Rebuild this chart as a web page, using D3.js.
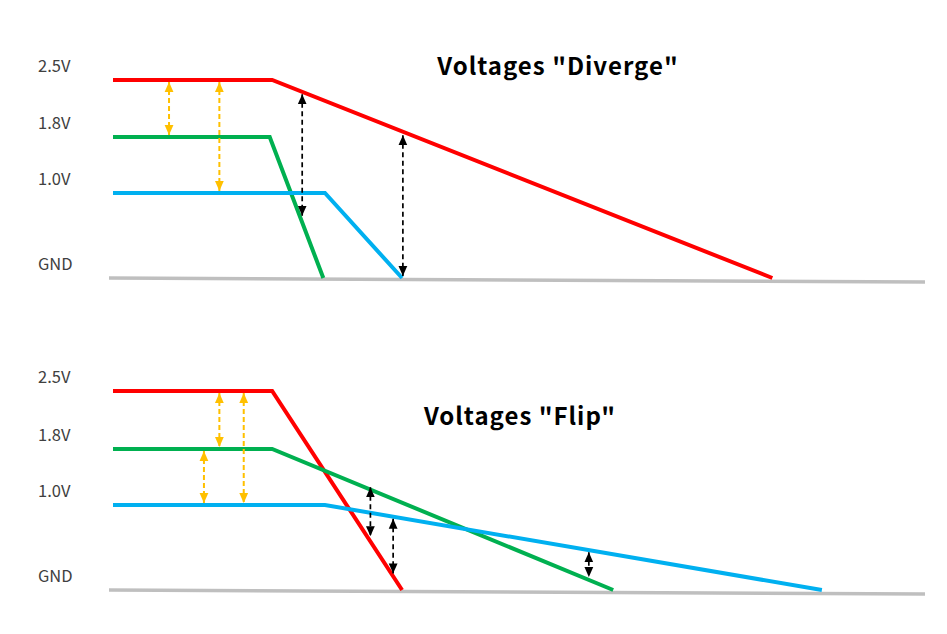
<!DOCTYPE html>
<html>
<head>
<meta charset="utf-8">
<script src="https://cdn.jsdelivr.net/npm/d3@7"></script>
<style>
  html, body { margin: 0; padding: 0; background: #fff; }
  svg { display: block; }
</style>
</head>
<body>
<svg id="chart" width="947" height="634"></svg>
<script>
// ---------- DATA ----------
const levelValues = [0, 1.0, 1.8, 2.5];
const levelLabels = ["GND", "1.0V", "1.8V", "2.5V"];
const titles = ['Voltages "Diverge"', 'Voltages "Flip"'];
const seriesNames = ["red", "green", "blue"];
const seriesColors = ["#FF0000", "#00B050", "#00B0F0"];

// each series: [time, volts] points (time in arbitrary units 0..100)
const divergeRed   = [[0, 2.5], [19.6, 2.5], [81.2, 0]];
const divergeGreen = [[0, 1.8], [19.3, 1.8], [25.9, 0]];
const divergeBlue  = [[0, 1.0], [26.1, 1.0], [35.6, 0]];
const flipRed      = [[0, 2.5], [19.6, 2.5], [35.6, 0]];
const flipGreen    = [[0, 1.8], [19.6, 1.8], [61.6, 0]];
const flipBlue     = [[0, 1.0], [26.1, 1.0], [87.3, 0]];

// arrows: [time, from series, to series, kind]
const divergeArrows = [
  [6.9, "red", "green", "orange"],
  [13.1, "red", "blue", "orange"],
  [23.3, "red", "green", "black"],
  [35.7, "red", "gnd", "black"]
];
const flipArrows = [
  [13.1, "red", "green", "orange"],
  [16.1, "red", "blue", "orange"],
  [11.2, "green", "blue", "orange"],
  [31.7, "green", "red", "black"],
  [34.5, "blue", "red", "black"],
  [58.6, "blue", "green", "black"]
];

// ---------- LAYOUT ----------
const panels = [
  { title: titles[0], titleX: 558, titleY: 75,
    series: [divergeRed, divergeGreen, divergeBlue], arrows: divergeArrows,
    yRange: [278, 193, 137, 80] },
  { title: titles[1], titleX: 520, titleY: 425,
    series: [flipRed, flipGreen, flipBlue], arrows: flipArrows,
    yRange: [590, 505, 449, 391] }
];

const svg = d3.select("#chart");
const x = d3.scaleLinear().domain([0, 100]).range([113, 925]);
const arrowColors = { orange: "#FFC000", black: "#000000" };

const defs = svg.append("defs");
Object.entries(arrowColors).forEach(([k, c]) => {
  defs.append("marker")
    .attr("id", "head-" + k)
    .attr("viewBox", "0 0 10 10")
    .attr("refX", 10).attr("refY", 5)
    .attr("markerUnits", "userSpaceOnUse")
    .attr("markerWidth", 10).attr("markerHeight", 10)
    .attr("orient", "auto-start-reverse")
    .append("path").attr("d", "M0,0.6 L10,5 L0,9.4 Z").attr("fill", c);
});

function valueAt(pts, t) {
  if (t <= pts[0][0]) return pts[0][1];
  for (let i = 1; i < pts.length; i++) {
    if (t <= pts[i][0]) {
      const [t0, v0] = pts[i - 1], [t1, v1] = pts[i];
      return v0 + (v1 - v0) * (t - t0) / (t1 - t0);
    }
  }
  return pts[pts.length - 1][1];
}

panels.forEach(p => {
  const y = d3.scaleLinear().domain(levelValues).range(p.yRange);
  const g = svg.append("g");

  // axis labels (left), placed above each level
  const axis = d3.axisLeft(y).tickValues(levelValues)
    .tickFormat((d, i) => levelLabels[i]).tickSize(0);
  const ax = g.append("g").attr("transform", "translate(38,0)").call(axis);
  ax.select(".domain").remove();
  ax.selectAll("text")
    .attr("x", 0).attr("dy", "0.32em")
    .attr("transform", "translate(0,-13.5)")
    .attr("text-anchor", "start")
    .attr("fill", "#404040")
    .style("font-family", "'Noto Sans CJK JP','Noto Sans',sans-serif")
    .style("font-size", "16.5px");

  // ground line (slightly tilted baseline)
  g.append("line")
    .attr("x1", x(0) - 4).attr("y1", y(0))
    .attr("x2", x(100)).attr("y2", y(0) + 4)
    .attr("stroke", "#BFBFBF").attr("stroke-width", 3.5);

  // series lines
  const line = d3.line().x(d => x(d[0])).y(d => y(d[1]));
  p.series.forEach((s, i) => {
    g.append("path").datum(s)
      .attr("d", line)
      .attr("fill", "none")
      .attr("stroke", seriesColors[i])
      .attr("stroke-width", 4)
      .attr("stroke-linejoin", "miter");
  });

  // arrows
  const lookup = name => name === "gnd" ? null : p.series[seriesNames.indexOf(name)];
  p.arrows.forEach(([t, a, b, kind]) => {
    const sa = lookup(a), sb = lookup(b);
    const va = sa ? valueAt(sa, t) : 0;
    const vb = sb ? valueAt(sb, t) : 0;
    let ya = y(va), yb = y(vb);
    const dir = Math.sign(yb - ya);
    ya += dir * 2; yb -= dir * 2;
    g.append("line")
      .attr("x1", x(t)).attr("y1", ya)
      .attr("x2", x(t)).attr("y2", yb)
      .attr("stroke", arrowColors[kind])
      .attr("stroke-width", kind === "orange" ? 2 : 1.7)
      .attr("stroke-dasharray", kind === "orange" ? "5,3" : "5,3.5")
      .attr("marker-start", "url(#head-" + kind + ")")
      .attr("marker-end", "url(#head-" + kind + ")");
  });

  // title
  g.append("text")
    .attr("x", p.titleX).attr("y", p.titleY)
    .attr("text-anchor", "middle")
    .attr("fill", "#000")
    .style("font-family", "'Noto Sans CJK JP','Noto Sans',sans-serif")
    .style("font-weight", "bold")
    .style("font-size", "24px")
    .style("letter-spacing", "1px")
    .text(p.title);
});
</script>
</body>
</html>
